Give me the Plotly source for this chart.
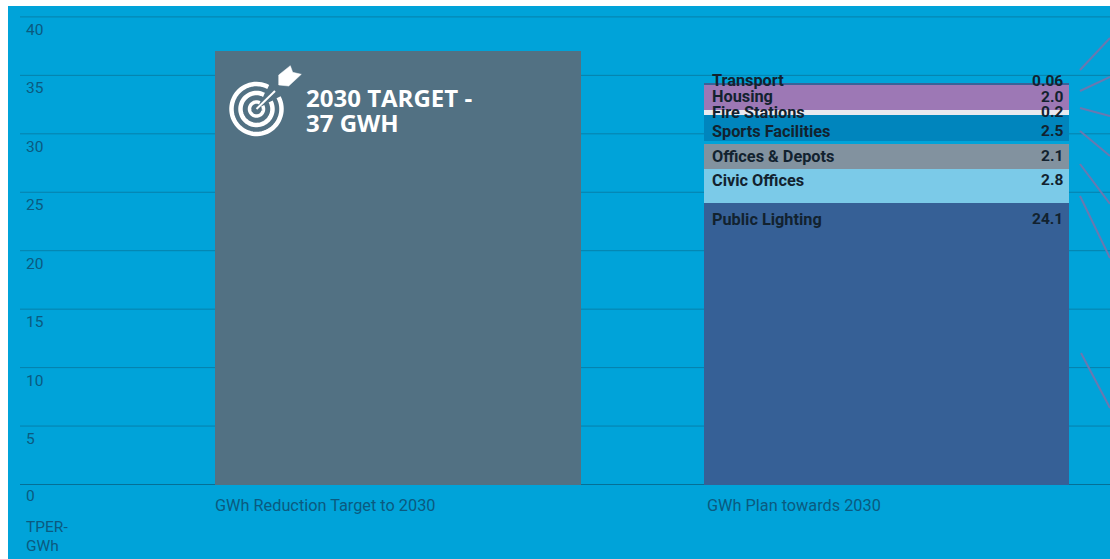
import numpy as np
import plotly.graph_objects as go

W, H = 1110, 559
PANEL_L, PANEL_T = 8, 6

categories = ["GWh Reduction Target to 2030", "GWh Plan towards 2030"]
target_values = [37.1]
segment_names = ["Public Lighting", "Civic Offices", "Offices & Depots", "Gap", "Sports Facilities", "Fire Stations", "Housing", "Transport"]
segment_heights = [24.1, 2.88, 2.14, 0.26, 2.23, 0.43, 2.14, 0.12]
segment_labels = ["24.1", "2.8", "2.1", "", "2.5", "0.2", "2.0", "0.06"]
segment_colors = ["#366096", "#7bcae8", "#82929f", "rgba(0,0,0,0)", "#0085bd", "#e9e9ef", "#9d78b5", "#3a6298"]
label_px_y = [219, 180, 156, None, 131, 112, 96.5, 80.5]
category_px_x = [215, 707]
y_ticks = [0, 5, 10, 15, 20, 25, 30, 35, 40]
axis_caption = ["TPER-", "GWh"]
axis_caption_px_y = [527, 546]
target_caption = ["2030 TARGET -", "37 GWH"]
target_caption_px_y = [97, 122]

BLUE = "#00a3d9"
GRID = "#0680ab"
AXIS_TEXT = "#0b5a80"
LABEL_TEXT = "#12222f"
LEADER = "#6a78b0"

# pixel <-> axis mapping of the plot area
BAND = 488.25
C0 = 398.25
Y0 = 484.5
UNIT = 11.69


def dx(px):
    return (px - C0) / BAND


def dy(py):
    return (Y0 - py) / UNIT


fig = go.Figure()
fig.add_bar(x=[0], y=target_values, marker=dict(color="#527183", line_width=0), width=0.749, showlegend=False)
for name, h, col in zip(segment_names, segment_heights, segment_colors):
    fig.add_bar(x=[1], y=[h], name=name, marker=dict(color=col, line_width=0), width=0.749, showlegend=False)

shapes = []
annotations = []

# gridlines
for t in y_ticks:
    shapes.append(dict(type="line", xref="x", yref="y", x0=dx(20), x1=dx(W), y0=t, y1=t,
                       line=dict(color=GRID if t else "#056f96", width=1), layer="below"))
    annotations.append(dict(x=dx(26), y=t, xref="x", yref="y", text=str(t), showarrow=False,
                            xanchor="left", yanchor="top", yshift=-2 if t else 0, xshift=-2,
                            font=dict(family="Roboto", size=15.5, color=AXIS_TEXT)))

# axis caption
for s, py in zip(axis_caption, axis_caption_px_y):
    annotations.append(dict(x=dx(26), y=dy(py), xref="x", yref="y", text=s, showarrow=False,
                            xanchor="left", yanchor="middle", xshift=-2,
                            font=dict(family="Roboto", size=15.5, color=AXIS_TEXT)))

# category labels
for c, px in zip(categories, category_px_x):
    annotations.append(dict(x=dx(px), y=dy(505), xref="x", yref="y", text=c, showarrow=False,
                            xanchor="left", yanchor="middle", xshift=-2,
                            font=dict(family="Roboto", size=16.3, color=AXIS_TEXT)))

# segment labels
for name, lab, py in zip(segment_names, segment_labels, label_px_y):
    if py is None:
        continue
    annotations.append(dict(x=dx(712), y=dy(py), xref="x", yref="y", text=f"<b>{name}</b>", showarrow=False,
                            xanchor="left", yanchor="middle", xshift=-2,
                            font=dict(family="Roboto", size=16.3, color=LABEL_TEXT)))
    annotations.append(dict(x=dx(1062.5), y=dy(py), xref="x", yref="y", text=f"<b>{lab}</b>", showarrow=False,
                            xanchor="right", yanchor="middle", xshift=2,
                            font=dict(family="Roboto", size=15.5, color=LABEL_TEXT)))

# target caption
for s, py in zip(target_caption, target_caption_px_y):
    annotations.append(dict(x=dx(306), y=dy(py), xref="x", yref="y", text=f"<b>{s}</b>",
                            showarrow=False, xanchor="left", yanchor="middle", xshift=-2,
                            font=dict(family="Open Sans", size=24, color="white")))

# leader lines running off the right edge
leaders = [(1080, 70, 1110, 38), (1080, 91, 1110, 77), (1080, 108, 1110, 116), (1080, 131, 1110, 156),
           (1080, 164, 1110, 204), (1080, 196, 1110, 258), (1081, 353, 1110, 408)]
for a, b, c, d in leaders:
    shapes.append(dict(type="line", xref="x", yref="y", x0=dx(a), y0=dy(b), x1=dx(c), y1=dy(d),
                       line=dict(color=LEADER, width=2)))


# target icon
def ring(cx, cy, r, start, end, w):
    t = np.radians(np.linspace(start, end, 60))
    pts = [(cx + r * np.cos(a), cy - r * np.sin(a)) for a in t]
    path = "M" + " L".join(f"{dx(x):.5f},{dy(y):.4f}" for x, y in pts)
    shapes.append(dict(type="path", xref="x", yref="y", path=path, line=dict(color="white", width=w)))


def poly(pts):
    path = "M" + " L".join(f"{dx(x):.5f},{dy(y):.4f}" for x, y in pts) + " Z"
    shapes.append(dict(type="path", xref="x", yref="y", path=path, fillcolor="white", line=dict(color="white", width=0.5)))


ring(256.5, 109, 25, 62, 388, 4.5)
ring(256.5, 109, 16, 62, 388, 4.5)
ring(256.5, 109, 7, 62, 388, 3.5)
shapes.append(dict(type="line", xref="x", yref="y", x0=dx(256.5), y0=dy(109), x1=dx(275), y1=dy(91),
                   line=dict(color="white", width=2)))
poly([(278.7, 85), (278.7, 75), (290.3, 65.7), (292.7, 72.3), (301.3, 74.3), (288.7, 86)])

fig.update_layout(
    width=W, height=H, paper_bgcolor="white", plot_bgcolor=BLUE,
    margin=dict(l=PANEL_L, r=0, t=PANEL_T, b=0),
    barmode="stack", bargap=0, showlegend=False,
    xaxis=dict(range=[dx(PANEL_L), dx(W)], visible=False, fixedrange=True),
    yaxis=dict(range=[dy(H), dy(PANEL_T)], visible=False, fixedrange=True),
    shapes=shapes, annotations=annotations,
)
fig.write_html("out.html", config={"displayModeBar": False},
               post_script="document.body.style.margin='0';document.body.style.overflow='hidden';")
